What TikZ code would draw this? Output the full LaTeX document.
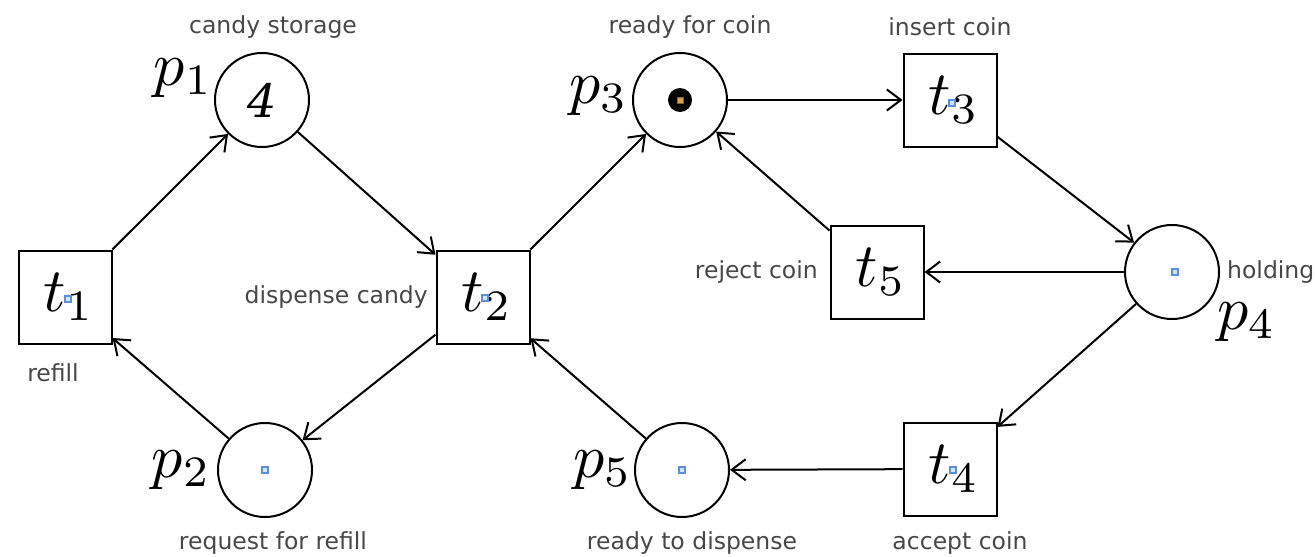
\RequirePackage{fix-cm}
\documentclass[tikz,border=0pt]{standalone}
\usepackage{fontspec}
\newfontfamily\lblfont{DejaVu Sans}
\newfontfamily\fourfont{DejaVu Serif}
\usetikzlibrary{arrows.meta,calc}
\definecolor{ctrblue}{HTML}{5B8FD9}
\definecolor{ctrfill}{HTML}{D6E4F7}
\definecolor{tokorange}{HTML}{D9A441}
\newcommand{\pnmath}[1]{\scalebox{6.2}{$#1$}}
\begin{document}
\begin{tikzpicture}[x=1pt,y=-1pt,
  place/.style={circle,draw,line width=2pt,minimum size=94pt,inner sep=0pt},
  trans/.style={rectangle,draw,line width=2pt,minimum size=93pt,inner sep=0pt,text depth=0pt},
  lbl/.style={font=\lblfont\fontsize{23.5}{28}\selectfont,text=black!72,inner sep=0pt},
  mlbl/.style={inner sep=0pt,xshift=3.5pt},
  arc/.style={line width=2pt,-{Straight Barb[length=14pt,width=21pt,line width=2pt]}},
  ctrsq/.style={draw=ctrblue,fill=ctrfill,line width=1.2pt}
]
\useasboundingbox (0,0) rectangle (1315,557);
% places
\node[place] (p1) at (262,100) {};
\node[place] (p2) at (265,470) {};
\node[place] (p3) at (680,100) {};
\node[place] (p4) at (1172,272) {};
\node[place] (p5) at (682,470) {};
% transitions
\node[trans] (t1) at (65,297) {};
\node[trans] (t2) at (483,297) {};
\node[trans] (t3) at (950,100) {};
\node[trans] (t4) at (950,469) {};
\node[trans] (t5) at (877,272) {};
\foreach \t in {1,...,5} {
  \node[inner sep=0pt,xshift=4pt] (mt\t) at (t\t.center) {\pnmath{t_\t}};
}
% tokens
\node[inner sep=0pt,font=\fourfont\itshape\fontsize{46}{50}\selectfont] (four) at (p1.center) {4};
\fill (p3.center) circle (12pt);
\filldraw[draw=tokorange!60!black,fill=tokorange,line width=0.8pt] ($(p3.center)+(-3,-3)$) rectangle ($(p3.center)+(3,3)$);
% centre marks
\foreach \c/\dx/\dy in {p2/0/0,p4/3/0,p5/0/0,t1/3/2,t2/2/1,t3/2/3,t4/3/1} {
  \draw[ctrsq] ($(\c.center)+(\dx-3,\dy-3)$) rectangle ($(\c.center)+(\dx+3,\dy+3)$);
}
% arcs
\draw[arc] (t1) -- (p1);
\draw[arc] (p1) -- (t2);
\draw[arc] (t2) -- (p2);
\draw[arc] (p2) -- (t1);
\draw[arc] (t2) -- (p3);
\draw[arc] (p3) -- (t3);
\draw[arc] (t3) -- (p4);
\draw[arc] (p4) -- (t5);
\draw[arc] (t5) -- (p3);
\draw[arc] (p4) -- (t4);
\draw[arc] (t4) -- (p5);
\draw[arc] (p5) -- (t2);
% math labels
\node[mlbl] (mp1) at (180,78) {\pnmath{p_1}};
\node[mlbl] (mp2) at (178,470) {\pnmath{p_2}};
\node[mlbl] (mp3) at (595,96) {\pnmath{p_3}};
\node[mlbl] (mp4) at (1243,322) {\pnmath{p_4}};
\node[mlbl] (mp5) at (599,470) {\pnmath{p_5}};
% text labels
\node[lbl] (l1) at (273,27) {candy storage};
\node[lbl] (l3) at (690,27) {ready for coin};
\node[lbl] (lt3) at (950,27) {insert coin};
\node[lbl,anchor=east] (lt5) at (818,272) {reject coin};
\node[lbl,anchor=west] (l4) at (1227,272) {holding};
\node[lbl,anchor=east] (lt2) at (428,297) {dispense candy};
\node[lbl] (lt1) at (53,373) {refill};
\node[lbl] (l2) at (273,543) {request for refill};
\node[lbl] (l5) at (692,543) {ready to dispense};
\node[lbl] (lt4) at (960,543) {accept coin};
\end{tikzpicture}
\end{document}
